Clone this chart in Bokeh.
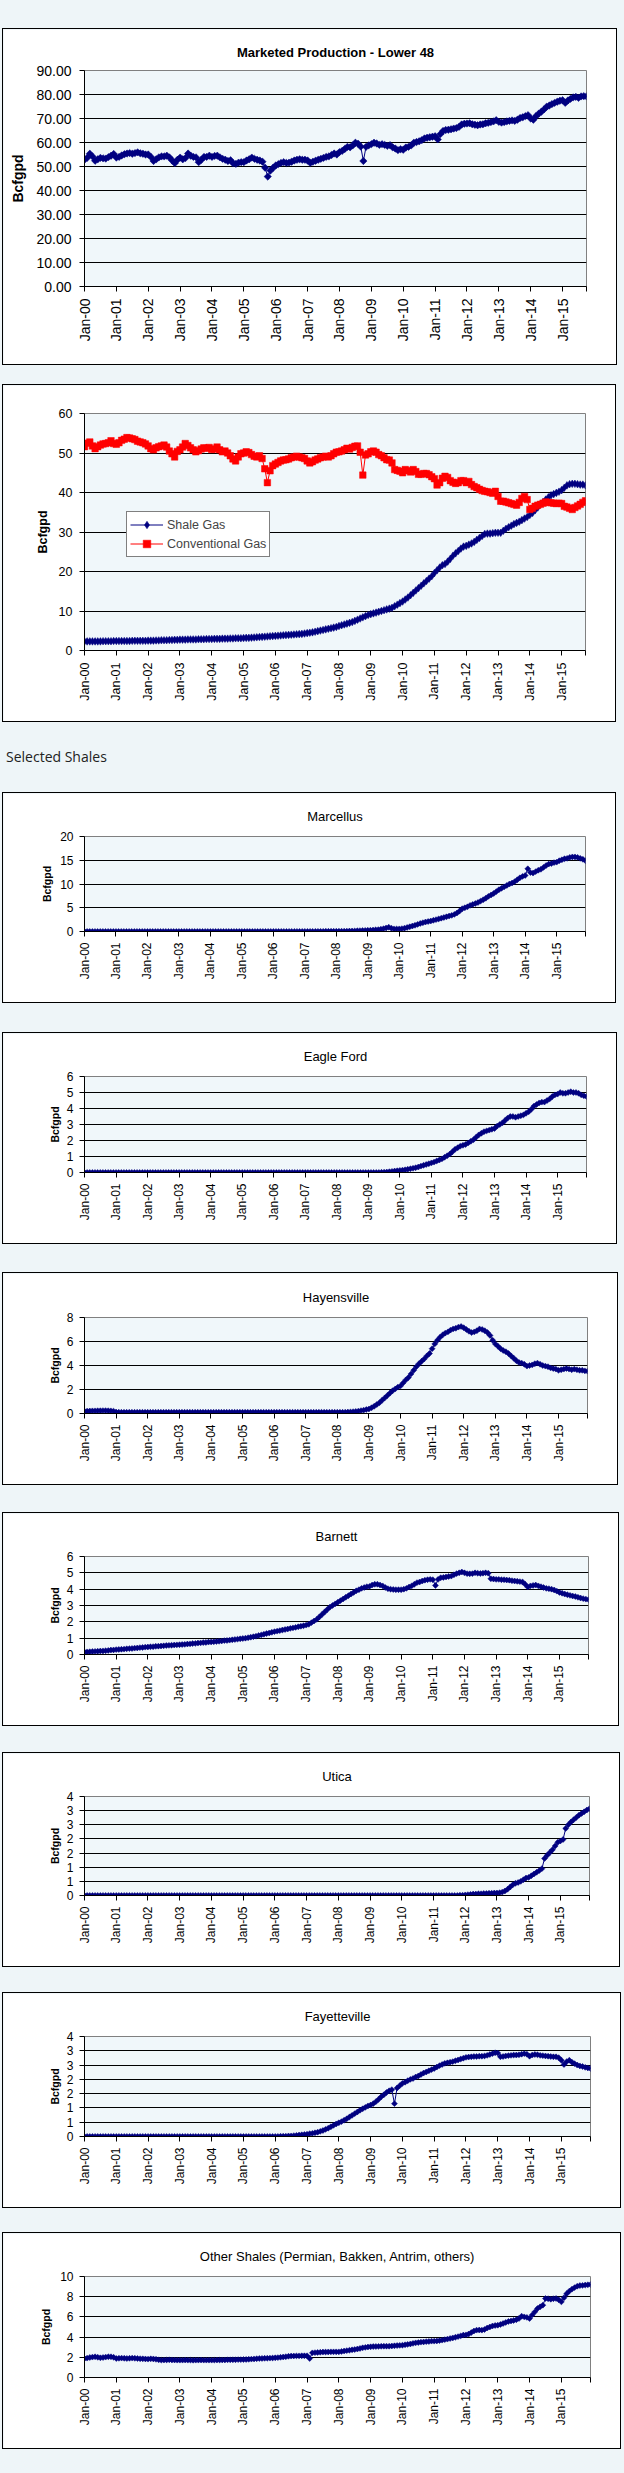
import math
from bokeh.plotting import figure
from bokeh.models import (Range1d, FixedTicker, Title, Legend, LegendItem,
                          Spacer, Div, GlobalInlineStyleSheet)
from bokeh.layouts import column
from bokeh.embed import file_html
from bokeh.resources import INLINE

# ---------------------------------------------------------------- data
X_TICK_LABELS = ["Jan-00", "Jan-01", "Jan-02", "Jan-03", "Jan-04", "Jan-05",
                 "Jan-06", "Jan-07", "Jan-08", "Jan-09", "Jan-10", "Jan-11",
                 "Jan-12", "Jan-13", "Jan-14", "Jan-15"]

# monthly, Jan-2000 .. Oct-2015 (Bcf/d)
MARKETED = [
    52.8, 53.6, 55.3, 54.2, 52.4, 53.0, 53.6, 53.4, 53.3, 53.9, 54.5, 55.2,
    53.7, 54.0, 54.6, 55.1, 55.4, 55.6, 55.3, 55.6, 55.9, 55.5, 55.3, 55.0,
    55.0, 54.0, 52.3, 53.0, 53.8, 54.2, 54.2, 54.5, 53.8, 52.5, 51.4, 52.8,
    53.7, 53.0, 53.5, 55.4, 54.5, 54.0, 53.8, 51.8, 52.8, 54.0, 54.0, 54.5,
    54.0, 54.4, 54.5, 53.8, 53.2, 52.8, 52.3, 52.6, 51.3, 51.1, 51.6, 51.8,
    51.8, 52.5, 53.0, 53.7, 53.2, 52.8, 52.5, 52.0, 49.5, 45.8, 48.3, 49.5,
    50.4, 51.0, 51.5, 51.8, 51.5, 51.6, 52.0, 52.5, 52.8, 53.0, 52.8, 52.8,
    52.5, 51.5, 52.0, 52.4, 52.8, 53.2, 53.6, 54.0, 54.2, 54.8, 55.4, 55.0,
    56.0, 56.5, 57.3, 58.2, 58.0, 58.8, 59.9, 59.5, 58.3, 52.3, 58.2, 58.8,
    59.3, 59.9, 59.6, 59.0, 59.3, 59.0, 58.6, 58.9, 58.0, 57.5, 56.8, 57.2,
    57.0, 57.9, 58.2, 58.8, 59.9, 60.2, 60.5, 61.0, 61.7, 62.0, 62.2, 62.4,
    62.6, 61.3, 63.5, 64.8, 65.2, 65.3, 65.5, 65.8, 66.0, 66.5, 67.5, 67.8,
    67.9, 68.0, 67.6, 67.4, 67.2, 67.5, 67.6, 68.0, 68.2, 68.5, 68.8, 69.3,
    68.6, 68.3, 68.5, 68.8, 69.0, 69.2, 69.0, 69.5, 70.2, 70.5, 71.0, 71.4,
    70.0, 69.5, 71.0, 72.0, 72.8, 73.8, 74.9, 75.4, 76.0, 76.5, 77.0, 77.4,
    77.6, 76.5, 77.5, 78.2, 78.8, 79.0, 78.6, 79.2, 79.3, 79.2,
]

SHALE = [
    2.3, 2.3, 2.3, 2.3, 2.3, 2.3, 2.3, 2.35, 2.35, 2.35, 2.35, 2.4,
    2.4, 2.4, 2.4, 2.4, 2.4, 2.4, 2.45, 2.45, 2.45, 2.45, 2.45, 2.45,
    2.5, 2.5, 2.5, 2.55, 2.55, 2.6, 2.6, 2.6, 2.65, 2.65, 2.7, 2.7,
    2.75, 2.75, 2.75, 2.8, 2.8, 2.8, 2.8, 2.85, 2.85, 2.85, 2.9, 2.9,
    2.9, 2.95, 2.95, 2.95, 3.0, 3.0, 3.0, 3.05, 3.05, 3.1, 3.1, 3.1,
    3.15, 3.2, 3.2, 3.25, 3.3, 3.35, 3.4, 3.45, 3.5, 3.55, 3.6, 3.65,
    3.7, 3.75, 3.8, 3.85, 3.9, 3.95, 4.0, 4.05, 4.1, 4.15, 4.2, 4.3,
    4.4, 4.5, 4.6, 4.75, 4.9, 5.05, 5.2, 5.35, 5.5, 5.65, 5.8, 5.95,
    6.2, 6.4, 6.6, 6.8, 7.0, 7.2, 7.5, 7.8, 8.1, 8.4, 8.7, 9.0,
    9.2, 9.4, 9.6, 9.8, 10.0, 10.2, 10.4, 10.6, 10.8, 11.2, 11.6, 12.0,
    12.4, 12.9, 13.4, 14.0, 14.6, 15.2, 15.8, 16.4, 17.0, 17.6, 18.2, 18.8,
    19.6, 20.3, 21.0, 21.6, 21.9, 22.5, 23.2, 24.0, 24.6, 25.2, 25.8, 26.3,
    26.5, 26.8, 27.1, 27.5, 28.0, 28.5, 29.0, 29.5, 29.6, 29.6, 29.7, 29.8,
    29.8, 29.8, 30.3, 30.8, 31.2, 31.6, 32.0, 32.3, 32.6, 33.0, 33.4, 33.8,
    34.3, 34.8, 35.5, 36.2, 37.0, 37.6, 38.2, 38.8, 39.3, 39.6, 39.9, 40.2,
    40.6, 41.2, 41.8, 42.1, 42.2, 42.2, 42.1, 42.0, 42.0, 41.8,
]

CONVENTIONAL = [
    51.6, 52.5, 52.8, 51.8, 51.1, 51.6, 52.0, 52.3, 52.4, 52.6, 53.1, 52.4,
    52.2, 52.6, 53.2, 53.5, 53.9, 53.8, 53.6, 53.4, 53.0, 52.8, 52.6, 52.3,
    51.8, 51.1, 50.8, 51.3, 51.6, 51.8, 52.0, 51.5, 50.5, 49.8, 49.0, 50.4,
    50.8, 51.5, 52.4, 51.9, 51.3, 50.8, 50.3, 50.6, 51.0, 51.3, 51.2, 51.4,
    50.9, 51.0, 51.5, 50.8, 50.3, 50.5, 50.0, 49.3, 48.5, 48.0, 49.0, 49.8,
    50.0, 50.3, 50.1, 49.6, 49.2, 49.0, 49.3, 48.6, 46.0, 42.5, 45.5, 46.8,
    47.2, 47.6, 48.0, 48.2, 48.3, 48.5, 48.8, 49.0, 49.2, 49.0, 48.8, 48.6,
    48.0, 47.5, 47.8, 48.2, 48.5, 48.8, 49.0, 49.2, 49.0, 49.3, 49.8, 50.2,
    50.3, 50.5, 50.8, 51.2, 51.0, 51.4, 51.7, 51.8, 50.2, 44.4, 49.5, 49.8,
    50.3, 50.5, 50.2, 49.6, 49.3, 48.8, 48.3, 48.2, 47.5, 45.8, 45.6, 45.4,
    45.0, 45.8, 45.5, 45.2, 45.8, 45.3, 44.6, 44.6, 44.8, 44.8, 44.5, 44.0,
    43.5, 41.9, 42.5, 43.6, 44.1, 43.8, 43.0, 42.6, 42.3, 42.5, 43.0, 43.0,
    42.5, 42.8, 42.0, 41.5, 41.2, 40.8, 40.5, 40.3, 40.2, 40.0, 39.8, 40.3,
    39.0, 37.8, 37.8, 37.6, 37.4, 37.2, 37.0, 36.8, 37.5, 38.5, 39.0, 38.2,
    35.7, 36.0, 36.5, 36.8, 37.0, 37.3, 37.6, 37.5, 37.4, 37.3, 37.2, 37.3,
    37.2, 36.5, 36.3, 36.0, 35.7, 36.2, 36.6, 37.0, 37.5, 37.9,
]

# monthly, Jan-2000 .. Dec-2015 (Bcf/d)
MARCELLUS = [
    0, 0, 0, 0, 0, 0, 0, 0, 0, 0, 0, 0,
    0, 0, 0, 0, 0, 0, 0, 0, 0, 0, 0, 0,
    0, 0, 0, 0, 0, 0, 0, 0, 0, 0, 0, 0,
    0, 0, 0, 0, 0, 0, 0, 0, 0, 0, 0, 0,
    0, 0, 0, 0, 0, 0, 0, 0, 0, 0, 0, 0,
    0, 0, 0, 0, 0, 0, 0, 0, 0, 0, 0, 0,
    0.01, 0.01, 0.01, 0.01, 0.01, 0.01, 0.01, 0.01, 0.01, 0.01, 0.01, 0.01,
    0.02, 0.02, 0.02, 0.02, 0.03, 0.03, 0.03, 0.03, 0.04, 0.04, 0.04, 0.04,
    0.05, 0.05, 0.06, 0.07, 0.08, 0.09, 0.1, 0.12, 0.15, 0.18, 0.2, 0.22,
    0.25, 0.28, 0.3, 0.35, 0.4, 0.5, 0.6, 0.75, 0.9, 0.7, 0.55, 0.55,
    0.55, 0.6, 0.7, 0.85, 1.0, 1.15, 1.3, 1.5, 1.7, 1.85, 2.0, 2.1,
    2.2, 2.35, 2.5, 2.65, 2.8, 2.95, 3.1, 3.25, 3.4, 3.6, 3.9, 4.3,
    4.8, 5.0, 5.2, 5.5, 5.7, 5.9, 6.1, 6.4, 6.7, 7.0, 7.4, 7.7,
    8.0, 8.4, 8.8, 9.1, 9.4, 9.7, 10.0, 10.2, 10.5, 10.9, 11.3, 11.6,
    11.8, 13.2, 12.4, 12.3, 12.6, 12.9, 13.1, 13.5, 13.9, 14.2, 14.3, 14.5,
    14.6, 14.9, 15.1, 15.3, 15.4, 15.6, 15.7, 15.7, 15.6, 15.4, 15.2, 14.9,
]

EAGLE_FORD = [
    0, 0, 0, 0, 0, 0, 0, 0, 0, 0, 0, 0,
    0, 0, 0, 0, 0, 0, 0, 0, 0, 0, 0, 0,
    0, 0, 0, 0, 0, 0, 0, 0, 0, 0, 0, 0,
    0, 0, 0, 0, 0, 0, 0, 0, 0, 0, 0, 0,
    0, 0, 0, 0, 0, 0, 0, 0, 0, 0, 0, 0,
    0, 0, 0, 0, 0, 0, 0, 0, 0, 0, 0, 0,
    0, 0, 0, 0, 0, 0, 0, 0, 0, 0, 0, 0,
    0, 0, 0, 0, 0, 0, 0, 0, 0, 0, 0, 0,
    0, 0, 0, 0, 0, 0, 0, 0, 0, 0, 0, 0,
    0, 0, 0, 0, 0, 0.01, 0.02, 0.03, 0.05, 0.07, 0.09, 0.11,
    0.13, 0.15, 0.17, 0.2, 0.23, 0.26, 0.3, 0.34, 0.4, 0.45, 0.5, 0.55,
    0.6, 0.65, 0.72, 0.78, 0.85, 0.95, 1.05, 1.15, 1.3, 1.45, 1.55, 1.65,
    1.7, 1.75, 1.85, 1.95, 2.05, 2.2, 2.35, 2.45, 2.55, 2.6, 2.65, 2.7,
    2.75, 2.9, 3.0, 3.1, 3.25, 3.4, 3.5, 3.5, 3.45, 3.5, 3.55, 3.6,
    3.7, 3.8, 3.95, 4.15, 4.25, 4.35, 4.4, 4.4, 4.5, 4.6, 4.75, 4.85,
    4.9, 5.0, 4.95, 4.95, 5.0, 5.05, 5.0, 5.0, 4.95, 4.85, 4.8, 4.75,
]

HAYNESVILLE = [
    0.19, 0.2, 0.21, 0.22, 0.22, 0.23, 0.23, 0.24, 0.24, 0.23, 0.22, 0.2,
    0.12, 0.11, 0.1, 0.1, 0.1, 0.1, 0.1, 0.1, 0.1, 0.1, 0.1, 0.1,
    0.1, 0.1, 0.1, 0.1, 0.1, 0.1, 0.1, 0.1, 0.1, 0.1, 0.1, 0.1,
    0.1, 0.1, 0.1, 0.1, 0.1, 0.1, 0.1, 0.1, 0.1, 0.1, 0.1, 0.1,
    0.1, 0.1, 0.1, 0.1, 0.1, 0.1, 0.1, 0.1, 0.1, 0.1, 0.1, 0.1,
    0.1, 0.1, 0.1, 0.1, 0.1, 0.1, 0.1, 0.1, 0.1, 0.1, 0.1, 0.1,
    0.1, 0.1, 0.1, 0.1, 0.1, 0.1, 0.1, 0.1, 0.1, 0.1, 0.1, 0.1,
    0.1, 0.1, 0.1, 0.1, 0.1, 0.1, 0.1, 0.1, 0.1, 0.1, 0.1, 0.1,
    0.1, 0.1, 0.1, 0.11, 0.12, 0.13, 0.15, 0.17, 0.2, 0.24, 0.28, 0.33,
    0.38, 0.48, 0.6, 0.75, 0.9, 1.1, 1.3, 1.5, 1.7, 1.9, 2.05, 2.2,
    2.3, 2.55, 2.8, 3.0, 3.3, 3.6, 3.9, 4.15, 4.35, 4.55, 4.8, 5.0,
    5.4, 5.8, 6.1, 6.35, 6.55, 6.7, 6.8, 6.95, 7.05, 7.1, 7.2, 7.25,
    7.15, 7.0, 6.85, 6.75, 6.8, 6.9, 7.05, 7.0, 6.9, 6.75, 6.5, 6.1,
    5.8, 5.6, 5.4, 5.25, 5.15, 5.0, 4.8, 4.6, 4.4, 4.25, 4.2, 4.1,
    3.95, 4.0, 4.05, 4.15, 4.2, 4.1, 4.0, 3.95, 3.9, 3.8, 3.75, 3.7,
    3.6, 3.65, 3.7, 3.75, 3.7, 3.65, 3.7, 3.65, 3.6, 3.6, 3.55, 3.53,
]

BARNETT = [
    0.15, 0.16, 0.17, 0.18, 0.19, 0.2, 0.21, 0.22, 0.23, 0.25, 0.27, 0.28,
    0.3, 0.31, 0.32, 0.33, 0.35, 0.36, 0.37, 0.39, 0.4, 0.42, 0.43, 0.45,
    0.46, 0.47, 0.48, 0.5, 0.51, 0.52, 0.53, 0.55, 0.56, 0.57, 0.58, 0.59,
    0.6, 0.61, 0.62, 0.64, 0.65, 0.67, 0.68, 0.7, 0.71, 0.73, 0.74, 0.76,
    0.77, 0.78, 0.8, 0.81, 0.83, 0.85, 0.86, 0.88, 0.9, 0.92, 0.94, 0.96,
    0.98, 1.0, 1.03, 1.06, 1.09, 1.12, 1.16, 1.2, 1.24, 1.28, 1.32, 1.36,
    1.4, 1.43, 1.46, 1.5, 1.53, 1.56, 1.6, 1.63, 1.66, 1.7, 1.73, 1.76,
    1.8, 1.85, 1.95, 2.05, 2.15, 2.3, 2.45, 2.6, 2.75, 2.9, 3.0, 3.1,
    3.2, 3.3, 3.4, 3.5, 3.6, 3.7, 3.8, 3.9, 3.97, 4.05, 4.1, 4.15,
    4.17, 4.25, 4.3, 4.3, 4.25, 4.2, 4.1, 4.03, 4.0, 3.98, 3.97, 3.97,
    3.97, 4.0, 4.05, 4.13, 4.2, 4.3, 4.4, 4.44, 4.5, 4.55, 4.58, 4.6,
    4.58, 4.23, 4.6, 4.7, 4.72, 4.75, 4.78, 4.8, 4.88, 4.95, 5.0, 5.05,
    5.0, 4.95, 4.94, 4.95, 5.0, 4.98, 4.96, 4.98, 5.0, 4.98, 4.64, 4.62,
    4.6, 4.6, 4.58, 4.58, 4.56, 4.55, 4.52, 4.5, 4.48, 4.46, 4.44, 4.3,
    4.13, 4.2, 4.23, 4.25, 4.2, 4.15, 4.1, 4.05, 4.03, 4.0, 3.95, 3.88,
    3.8, 3.75, 3.7, 3.66, 3.62, 3.58, 3.55, 3.5, 3.46, 3.42, 3.39, 3.36,
]

UTICA = [
    0, 0, 0, 0, 0, 0, 0, 0, 0, 0, 0, 0,
    0, 0, 0, 0, 0, 0, 0, 0, 0, 0, 0, 0,
    0, 0, 0, 0, 0, 0, 0, 0, 0, 0, 0, 0,
    0, 0, 0, 0, 0, 0, 0, 0, 0, 0, 0, 0,
    0, 0, 0, 0, 0, 0, 0, 0, 0, 0, 0, 0,
    0, 0, 0, 0, 0, 0, 0, 0, 0, 0, 0, 0,
    0, 0, 0, 0, 0, 0, 0, 0, 0, 0, 0, 0,
    0, 0, 0, 0, 0, 0, 0, 0, 0, 0, 0, 0,
    0, 0, 0, 0, 0, 0, 0, 0, 0, 0, 0, 0,
    0, 0, 0, 0, 0, 0, 0, 0, 0, 0, 0, 0,
    0, 0, 0, 0, 0, 0, 0, 0, 0, 0, 0, 0,
    0, 0, 0, 0, 0, 0, 0, 0, 0, 0, 0.01, 0.01,
    0.02, 0.03, 0.04, 0.05, 0.05, 0.06, 0.06, 0.07, 0.07, 0.08, 0.08, 0.09,
    0.09, 0.1, 0.12, 0.16, 0.22, 0.3, 0.38, 0.43, 0.46, 0.5, 0.56, 0.62,
    0.64, 0.7, 0.76, 0.82, 0.88, 0.95, 1.31, 1.42, 1.52, 1.62, 1.75, 1.88,
    1.93, 1.98, 2.37, 2.5, 2.6, 2.68, 2.76, 2.84, 2.9, 2.96, 3.02, 3.07,
]

FAYETTEVILLE = [
    0, 0, 0, 0, 0, 0, 0, 0, 0, 0, 0, 0,
    0, 0, 0, 0, 0, 0, 0, 0, 0, 0, 0, 0,
    0, 0, 0, 0, 0, 0, 0, 0, 0, 0, 0, 0,
    0, 0, 0, 0, 0, 0, 0, 0, 0, 0, 0, 0,
    0, 0, 0, 0, 0, 0, 0, 0, 0, 0, 0, 0,
    0, 0, 0, 0, 0, 0, 0, 0, 0, 0, 0, 0,
    0.0, 0.0, 0.01, 0.01, 0.01, 0.02, 0.02, 0.03, 0.04, 0.05, 0.06, 0.07,
    0.08, 0.1, 0.11, 0.13, 0.15, 0.18, 0.21, 0.25, 0.29, 0.34, 0.39, 0.44,
    0.48, 0.52, 0.57, 0.62, 0.68, 0.74, 0.8, 0.86, 0.92, 0.97, 1.02, 1.07,
    1.1, 1.15, 1.22, 1.3, 1.39, 1.46, 1.54, 1.6, 1.64, 1.15, 1.7, 1.78,
    1.86, 1.9, 1.95, 2.0, 2.03, 2.08, 2.12, 2.17, 2.22, 2.26, 2.3, 2.34,
    2.38, 2.43, 2.48, 2.52, 2.56, 2.58, 2.6, 2.62, 2.65, 2.68, 2.71, 2.74,
    2.77, 2.78, 2.79, 2.8, 2.8, 2.81, 2.81, 2.82, 2.84, 2.87, 2.9, 2.93,
    2.92, 2.79, 2.8, 2.82, 2.83, 2.84, 2.85, 2.85, 2.86, 2.88, 2.9, 2.88,
    2.81, 2.85, 2.87, 2.86, 2.84, 2.83, 2.82, 2.81, 2.8, 2.79, 2.79, 2.76,
    2.67, 2.52, 2.62, 2.67, 2.6, 2.55, 2.5, 2.47, 2.45, 2.42, 2.4, 2.38,
]

OTHER = [
    1.88, 1.92, 1.98, 2.02, 2.05, 2.0, 1.95, 1.98, 2.02, 2.05, 2.05, 2.0,
    1.88, 1.9, 1.92, 1.9, 1.88, 1.9, 1.92, 1.9, 1.88, 1.86, 1.85, 1.84,
    1.82, 1.85, 1.84, 1.8, 1.75, 1.72, 1.73, 1.74, 1.75, 1.74, 1.73, 1.72,
    1.72, 1.72, 1.73, 1.72, 1.72, 1.71, 1.72, 1.72, 1.73, 1.72, 1.72, 1.72,
    1.72, 1.72, 1.73, 1.73, 1.74, 1.74, 1.75, 1.75, 1.76, 1.76, 1.77, 1.77,
    1.78, 1.79, 1.8, 1.82, 1.84, 1.86, 1.88, 1.89, 1.9, 1.91, 1.92, 1.93,
    1.95, 1.97, 2.0, 2.03, 2.06, 2.1, 2.12, 2.13, 2.14, 2.14, 2.15, 2.15,
    2.15, 1.88, 2.44, 2.46, 2.48, 2.5, 2.52, 2.52, 2.53, 2.54, 2.54, 2.54,
    2.54, 2.58, 2.62, 2.66, 2.7, 2.74, 2.77, 2.82, 2.88, 2.94, 2.98, 3.02,
    3.04, 3.06, 3.07, 3.08, 3.09, 3.1, 3.1, 3.1, 3.12, 3.14, 3.16, 3.18,
    3.2, 3.24, 3.28, 3.32, 3.38, 3.43, 3.46, 3.5, 3.52, 3.55, 3.57, 3.6,
    3.6, 3.62, 3.65, 3.7, 3.75, 3.8, 3.86, 3.92, 3.98, 4.05, 4.12, 4.2,
    4.22, 4.3, 4.45, 4.6, 4.69, 4.7, 4.69, 4.75, 4.9, 5.0, 5.1, 5.15,
    5.18, 5.25, 5.35, 5.45, 5.55, 5.6, 5.65, 5.72, 5.84, 6.07, 6.0, 5.95,
    5.84, 6.2, 6.5, 6.83, 7.0, 7.16, 7.82, 7.8, 7.75, 7.8, 7.82, 7.7,
    7.49, 7.9, 8.3, 8.55, 8.75, 8.9, 9.04, 9.1, 9.12, 9.15, 9.18, 9.2,
]

Y_TICKS_MARKETED = [0, 10, 20, 30, 40, 50, 60, 70, 80, 90]
Y_LABELS_MARKETED = ["0.00", "10.00", "20.00", "30.00", "40.00", "50.00",
                     "60.00", "70.00", "80.00", "90.00"]
Y_TICKS_SPLIT = [0, 10, 20, 30, 40, 50, 60]
Y_LABELS_SPLIT = ["0", "10", "20", "30", "40", "50", "60"]
Y_TICKS_20 = [0, 5, 10, 15, 20]
Y_LABELS_20 = ["0", "5", "10", "15", "20"]
Y_TICKS_6 = [0, 1, 2, 3, 4, 5, 6]
Y_LABELS_6 = ["0", "1", "2", "3", "4", "5", "6"]
Y_TICKS_8 = [0, 2, 4, 6, 8]
Y_LABELS_8 = ["0", "2", "4", "6", "8"]
Y_TICKS_35 = [0, 0.5, 1, 1.5, 2, 2.5, 3, 3.5]
Y_LABELS_35 = ["0", "1", "1", "2", "2", "3", "3", "4"]
Y_TICKS_10 = [0, 2, 4, 6, 8, 10]
Y_LABELS_10 = ["0", "2", "4", "6", "8", "10"]

# ---------------------------------------------------------------- style
FONT = "Liberation Sans"
NAVY = "#000080"
RED = "#FF0000"
PAGE_BG = "#EEF5F8"
PLOT_BG = "#F0F7FA"
BOX_LEFT = 2


def make_chart(series, n, yticks, ylabels, lay, title=None):
    W = lay["box_r"] - BOX_LEFT - 2
    H = lay["box_h"] - 2
    cx0 = BOX_LEFT + 1
    cy0 = lay["box_top"] + 1
    p = figure(width=W, height=H, title=None,
               x_range=Range1d(0, n - 1), y_range=Range1d(yticks[0], yticks[-1]),
               output_backend="svg", toolbar_location=None,
               min_border_left=round(lay["pl"] - cx0),
               min_border_right=round(cx0 + W - lay["pr"]),
               min_border_top=round(lay["pt"] - cy0),
               min_border_bottom=round(cy0 + H - lay["pb"]),
               background_fill_color=PLOT_BG, border_fill_color="white",
               outline_line_color="#808080", outline_line_width=1,
               styles={"outline": "1px solid black"})
    p.xgrid.visible = False
    p.ygrid.ticker = FixedTicker(ticks=yticks[1:-1])
    p.ygrid.grid_line_color = "black"
    p.ygrid.grid_line_width = 1

    xt = [12 * i for i in range(len(X_TICK_LABELS))] + [n - 1]
    xo = {12 * i: lab for i, lab in enumerate(X_TICK_LABELS)}
    xo[n - 1] = ""
    xa = p.xaxis[0]
    xa.ticker = FixedTicker(ticks=xt)
    xa.major_label_overrides = xo
    xa.major_label_orientation = math.pi / 2
    xa.major_label_standoff = lay["xstand"]
    xa.major_label_text_font = FONT
    xa.major_label_text_font_size = lay["xfs"]
    xa.major_label_text_color = "black"

    ya = p.yaxis[0]
    ya.ticker = FixedTicker(ticks=yticks)
    ya.major_label_overrides = {t: s for t, s in zip(yticks, ylabels)}
    ya.major_label_standoff = lay["ystand"]
    ya.major_label_text_font = FONT
    ya.major_label_text_font_size = lay["yfs"]
    ya.major_label_text_color = "black"
    ya.axis_label = "Bcfgpd"
    ya.axis_label_text_font = FONT
    ya.axis_label_text_font_style = "bold"
    ya.axis_label_text_font_size = lay["ylfs"]
    ya.axis_label_text_color = "black"
    ya.axis_label_standoff = int(lay["ylstand"])

    for ax in (xa, ya):
        ax.axis_line_color = "black"
        ax.axis_line_width = 1
        ax.major_tick_line_color = "black"
        ax.major_tick_out = 5
        ax.major_tick_in = 0
        ax.minor_tick_out = 0
        ax.minor_tick_in = 0

    xs = list(range(n))
    rends = []
    for vals, color, marker, size, angle in series:
        xx = xs[:len(vals)]
        ln = p.line(xx, vals, line_color=color, line_width=1)
        sc = p.scatter(xx, vals, marker=marker, size=size, angle=angle,
                       fill_color=color, line_color=color, line_width=0.5)
        rends.append((ln, sc))

    if title:
        tcx = (BOX_LEFT + lay["box_r"]) / 2
        fcx = (lay["pl"] + lay["pr"]) / 2
        p.add_layout(Title(text=title, align="center", offset=tcx - fcx,
                           standoff=int(round(lay["pt"] - lay["title_y"])) + 4,
                           text_font=FONT, text_font_size=lay["tfs"],
                           text_font_style=lay.get("tstyle", "normal"),
                           text_color="black"), "above")
    return p, rends


DIAMOND_BIG = ("square", 5.2, math.pi / 4)
DIAMOND_SMALL = ("square", 4.2, math.pi / 4)


def navy(vals, d):
    return (vals, NAVY, d[0], d[1], d[2])


LAY_MARKETED = dict(box_top=28, box_h=337, box_r=617, pl=83.6, pr=586, pt=70.3,
                    pb=286.3, title_y=52.3, xfs="14px", yfs="14px", ylfs="14px",
                    ylstand=7, tfs="13px", tstyle="bold", xstand=7, ystand=8)
LAY_SPLIT = dict(box_top=384, box_h=338, box_r=616, pl=56.5, pr=586, pt=413.3,
                 pb=650.3, title_y=0, xfs="12.5px", yfs="12.5px", ylfs="12.5px",
                 ylstand=6, tfs="13px", xstand=7, ystand=7)


def play_lay(box_top, box_h, box_r, pl, pr, pt, pb, title_y, ylstand):
    return dict(box_top=box_top, box_h=box_h, box_r=box_r, pl=pl, pr=pr, pt=pt,
                pb=pb, title_y=title_y, xfs="12px", yfs="12px", ylfs="10.5px",
                ylstand=ylstand, tfs="13px", xstand=6, ystand=6)


p1, _ = make_chart([navy(MARKETED, DIAMOND_BIG)], 190, Y_TICKS_MARKETED,
                   Y_LABELS_MARKETED, LAY_MARKETED,
                   title="Marketed Production - Lower 48")

p2, r2 = make_chart([(SHALE, NAVY, "diamond", 7.6, 0),
                     (CONVENTIONAL, RED, "square", 6.5, 0)], 190,
                    Y_TICKS_SPLIT, Y_LABELS_SPLIT, LAY_SPLIT)
legend = Legend(items=[LegendItem(label="Shale Gas", renderers=list(r2[0])),
                       LegendItem(label="Conventional Gas", renderers=list(r2[1]))],
                location=(42, 93), orientation="vertical",
                border_line_color="black", border_line_width=1,
                background_fill_color="white", background_fill_alpha=1.0,
                label_text_font=FONT, label_text_font_size="12.5px",
                glyph_width=33, glyph_height=19, label_height=19,
                label_standoff=4, padding=3, spacing=0, margin=0)
p2.add_layout(legend)

plays = [
    ("Marcellus", MARCELLUS, Y_TICKS_20, Y_LABELS_20,
     play_lay(792, 211, 616, 50.5, 586, 836.3, 931, 814, 4)),
    ("Eagle Ford", EAGLE_FORD, Y_TICKS_6, Y_LABELS_6,
     play_lay(1032, 212, 617, 43, 587.4, 1076, 1172.3, 1054.3, 3)),
    ("Hayensville", HAYNESVILLE, Y_TICKS_8, Y_LABELS_8,
     play_lay(1272, 213, 618, 43, 588, 1316.7, 1413, 1294.3, 3)),
    ("Barnett", BARNETT, Y_TICKS_6, Y_LABELS_6,
     play_lay(1512, 214, 619, 43, 589, 1556, 1654, 1534, 3)),
    ("Utica", UTICA, Y_TICKS_35, Y_LABELS_35,
     play_lay(1752, 215, 620, 43, 590.5, 1796.3, 1895.3, 1774.3, 3)),
    ("Fayetteville", FAYETTEVILLE, Y_TICKS_35, Y_LABELS_35,
     play_lay(1992, 216, 621, 43, 591.3, 2036.3, 2136.3, 2014.3, 3)),
    ("Other Shales (Permian, Bakken, Antrim, others)", OTHER, Y_TICKS_10, Y_LABELS_10,
     play_lay(2232, 217, 621, 50.5, 592, 2276.3, 2377.3, 2254, 5)),
]

play_figs = []
for title, vals, yt, yl, lay in plays:
    f, _ = make_chart([navy(vals, DIAMOND_SMALL)], 192, yt, yl, lay, title=title)
    play_figs.append(f)

# section heading between the two groups of charts
div = Div(text='<span style="font-family:\'Open Sans\';font-size:14px;'
               'line-height:20px;color:#222;padding-left:3px;white-space:nowrap">'
               'Selected Shales</span>', width=300, height=20, margin=(0, 0, 0, 0),
          styles={"overflow": "hidden", "line-height": "20px"})

children = [Spacer(height=29), p1, Spacer(height=21), p2, Spacer(height=26), div,
            Spacer(height=26)]
gaps = [31, 30, 29, 28, 27, 26]
for i, f in enumerate(play_figs):
    children.append(f)
    if i < len(gaps):
        children.append(Spacer(height=gaps[i]))

page_css = GlobalInlineStyleSheet(
    css="body{margin:0;padding:0 0 0 3px;background:%s;}" % PAGE_BG)
root = column(*children, stylesheets=[page_css])

open("out.html", "w").write(file_html(root, INLINE))
